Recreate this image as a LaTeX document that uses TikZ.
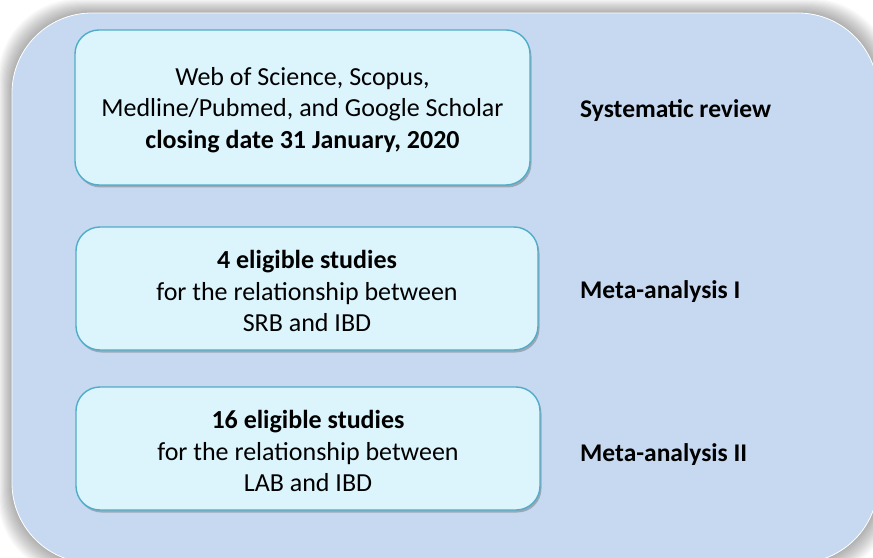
\documentclass[tikz,border=0pt]{standalone}
\usepackage{fontspec}
\setmainfont{Carlito}
\usetikzlibrary{shadows}
\definecolor{bgblue}{RGB}{198,217,240}
\definecolor{boxfill}{RGB}{220,245,253}
\definecolor{boxline}{RGB}{80,172,200}
\tikzset{
  txt/.style={font=\fontsize{26bp}{31.5bp}\selectfont, text=black},
  stepbox/.style={draw=boxline, fill=boxfill, line width=1.4bp,
    rounded corners=24bp, inner sep=0pt,
    drop shadow={shadow xshift=1.5bp, shadow yshift=-2.5bp, opacity=0.35, fill=black!70}},
  boxtext/.style={txt, align=center, inner sep=0pt, yshift=-2.5bp},
  sidelabel/.style={txt, font=\fontsize{25.5bp}{31bp}\selectfont\bfseries, anchor=west, inner sep=0pt}
}
\begin{document}
\begin{tikzpicture}[x=1bp,y=-1bp]
\useasboundingbox (0,0) rectangle (873,558);
\fill[white] (0,0) rectangle (873,558);
\begin{scope}
  \clip (0,0) rectangle (873,558);
  \foreach \i in {1,...,14} {
    \fill[black,opacity=0.022,rounded corners=80bp] (12-\i,13-\i) rectangle (878+\i,563+\i);
  }
  \fill[bgblue, draw=white, line width=0.8bp, rounded corners=80bp] (12,13) rectangle (878,563);
\end{scope}

\node[stepbox, minimum width=455bp, minimum height=155bp,
  label={[boxtext]center:{Web of Science, Scopus,\\ Medline/Pubmed, and Google Scholar\\ \textbf{closing date 31 January, 2020}}}] (b1) at (302.5,107.5) {};
\node[stepbox, minimum width=462bp, minimum height=123bp,
  label={[boxtext]center:{\textbf{4 eligible studies}\\ for the relationship between\\ SRB and IBD}}] (b2) at (307,288.5) {};
\node[stepbox, minimum width=464bp, minimum height=123bp,
  label={[boxtext]center:{\textbf{16 eligible studies}\\ for the relationship between\\ LAB and IBD}}] (b3) at (308,448.5) {};

\node[sidelabel] (l1) at (580,110.5) {Systematic review};
\node[sidelabel] (l2) at (580,291.5) {Meta-analysis I};
\node[sidelabel] (l3) at (580,454.5) {Meta-analysis II};
\end{tikzpicture}
\end{document}
